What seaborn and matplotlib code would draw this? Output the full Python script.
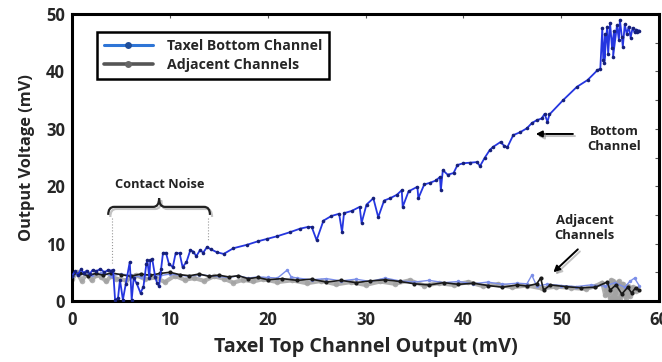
import numpy as np
import pandas as pd
import matplotlib
matplotlib.use("Agg")
import matplotlib.pyplot as plt
import matplotlib.patheffects as pe
from matplotlib.path import Path
from matplotlib.patches import PathPatch
from matplotlib.lines import Line2D
import seaborn as sns

# ---- data (mV) ----
bottom_x = [0.0, 0.3, 0.6, 0.9, 1.2, 1.5, 1.8, 2.1, 2.5, 2.9, 3.3, 3.7, 4.0, 4.2,
            4.4, 4.7, 4.9, 5.2, 5.5, 5.9, 6.1, 6.3, 6.6, 7.0, 7.3, 7.6, 7.7, 7.9, 8.0,
            8.2, 8.5, 8.7, 8.9, 9.1, 9.3, 9.6, 9.9, 10.3, 10.6, 11.0, 11.3, 11.7, 12.1,
            12.4, 12.7, 13.1, 13.4, 13.8, 14.2, 14.8, 15.5, 16.5, 17.9, 19.0, 19.9,
            21.0, 22.3, 23.3, 24.1, 24.5, 25.0, 25.7, 26.5, 27.3, 27.6, 27.8, 28.6,
            29.4, 29.6, 30.1, 30.8, 31.3, 31.9, 32.5, 33.2, 33.7, 33.8, 34.4, 35.3,
            35.4, 36.0, 36.6, 37.2, 37.6, 37.7, 37.9, 38.4, 39.0, 39.4, 40.0, 40.7,
            41.4, 41.7, 42.2, 42.7, 43.0, 43.8, 44.2, 44.5, 45.1, 45.8, 46.5, 47.0,
            47.5, 48.0, 48.3, 48.6, 48.8, 50.2, 51.6, 52.7, 53.7, 54.0,
            54.2, 54.3, 54.5, 54.4, 54.7, 54.8, 55.0, 55.2, 55.4, 55.3, 55.7, 55.9,
            56.0, 56.2, 56.3, 56.5, 56.7, 56.9, 57.1, 57.3, 57.5, 57.8, 57.6, 58.0]
bottom_y = [4.3, 5.2, 4.6, 5.5, 4.9, 5.3, 4.7, 5.4, 5.2, 5.6, 5.0, 5.4, 5.3, 5.4,
            0.2, 0.5, 3.7, 0.2, 3.0, 6.8, 0.2, 4.0, 3.1, 1.4, 2.5, 6.5, 7.1, 4.0, 7.1,
            7.3, 4.2, 3.1, 2.6, 5.5, 8.4, 8.4, 6.5, 5.9, 8.4, 8.3, 5.9, 6.8, 8.9,
            8.6, 7.8, 8.9, 8.4, 9.4, 9.0, 8.5, 8.2, 9.2, 9.8, 10.4, 10.8,
            11.3, 12.0, 12.6, 12.9, 12.9, 10.6, 14.0, 14.8, 15.2, 12.0, 15.3, 15.7,
            16.4, 13.6, 16.8, 17.9, 14.6, 17.5, 17.9, 18.5, 19.3, 16.4, 19.1, 19.9,
            17.9, 20.3, 20.6, 21.0, 21.6, 19.3, 22.8, 22.0, 22.3, 23.7, 24.0, 24.1,
            24.2, 23.5, 25.0, 26.3, 26.8, 27.7, 27.0, 26.8, 28.9, 29.4, 30.1, 31.0,
            31.5, 31.8, 32.6, 31.2, 32.5, 35.0, 37.3, 38.5, 40.2, 40.5,
            47.5, 42.0, 46.5, 41.5, 47.8, 43.0, 48.4, 44.0, 47.0, 42.5, 48.0, 45.5,
            49.0, 46.0, 44.3, 48.2, 46.5, 47.8, 45.9, 47.6, 46.8, 46.9, 47.3, 47.1]

adj_black_x = [0, 0.8, 1.6, 2.4, 3.2, 4.0, 5.0, 6.0, 7.0, 8.0, 9.0, 10.0, 11.0, 12.0,
               13.0, 14.0, 15.0, 16.0, 17.0, 18.0, 19.0, 20.0, 21.5, 23.0, 24.5, 26.0,
               27.5, 29.0, 30.5, 32.0, 33.5, 35.0, 36.5, 38.0, 39.5, 41.0, 42.5, 44.0,
               45.5, 46.5, 47.5, 47.9, 48.2, 48.9, 50.5, 52.0, 53.5, 54.7, 55.0, 55.6,
               56.2, 56.8, 57.2, 57.6, 58.0]
adj_black_y = [4.6, 4.9, 4.4, 4.8, 4.5, 4.9, 4.6, 4.3, 4.7, 4.5, 4.8, 5.0, 4.6, 4.4,
               4.7, 4.3, 4.5, 4.2, 4.4, 3.9, 4.1, 3.7, 3.9, 3.6, 3.8, 3.3,
               3.6, 3.2, 3.5, 3.7, 3.4, 3.0, 2.8, 3.2, 2.9, 3.1, 2.7, 2.4,
               2.8, 2.6, 3.0, 4.0, 1.9, 2.8, 2.5, 2.3, 2.4, 3.3, 1.9, 2.8,
               1.2, 2.4, 1.4, 2.3, 1.9]

adj_gray_x = [0, 0.5, 1.0, 1.5, 2.0, 2.5, 3.0, 3.5, 4.0, 4.5, 5.5, 6.5, 7.5, 8.5, 9.5,
              10.5, 11.5, 12.5, 13.5, 14.5, 15.5, 16.5, 17.5, 18.5, 19.5, 21, 22.5, 24,
              25.5, 27, 28.5, 30, 31.5, 33, 34.5, 36, 37.5, 39, 40.5, 42, 43.5, 45,
              46.5, 48, 49.5, 51, 52.5, 53.5, 54.2, 54.5, 54.8, 55.0, 55.3, 55.5, 55.8,
              56.0, 56.3, 56.5, 56.8, 57.0, 57.3, 57.6, 55.2, 54.6, 55.9, 56.6, 55.4,
              56.1, 54.9, 56.9, 55.7, 55.1, 56.4, 55.6, 56.2, 54.7, 55.8, 56.7, 55.3,
              56.0, 55.5]
adj_gray_y = [3.8, 5.0, 3.5, 4.8, 3.6, 4.6, 4.2, 3.4, 4.4, 3.9, 3.6, 4.5, 3.8, 4.1, 3.3,
              4.4, 3.7, 4.0, 3.5, 4.3, 3.9, 3.2, 3.7, 3.4, 3.8, 3.3, 3.6, 3.1,
              3.5, 2.9, 3.3, 2.8, 3.4, 3.0, 3.6, 2.7, 3.1, 2.8, 3.3, 2.6, 2.9, 2.4,
              2.7, 2.2, 2.5, 2.3, 2.1, 2.6, 3.2, 1.0, 2.8, 0.6, 3.5, 1.4, 2.2,
              0.5, 3.0, 1.2, 2.6, 0.8, 2.4, 1.8, 0.4, 2.0, 3.4, 0.6, 2.9,
              1.0, 1.6, 2.2, 0.3, 3.6, 1.8, 0.5, 2.7, 1.3, 3.1, 1.5, 0.8,
              2.4, 1.9]

adj_blue_x = [0, 1, 2, 3, 4, 5, 6, 7, 8, 9, 10, 11, 12, 13, 14, 15, 16, 17, 18, 19, 20,
              21, 22.0, 22.4, 23, 24.5, 26, 27.5, 29, 30.5, 32, 33.5, 35, 36.5, 38,
              39.5, 41, 42.5, 44, 45.5, 46.5, 47.0, 47.5, 48.5, 50, 51.5, 53, 54.5,
              55.5, 56.5, 57.0, 57.5, 58.0]
adj_blue_y = [4.3, 4.8, 4.5, 4.9, 4.4, 4.7, 4.5, 4.2, 4.6, 4.4, 4.7, 4.5, 4.3, 4.6, 4.4,
              4.3, 4.1, 4.4, 4.0, 4.2, 4.1, 4.0, 5.4, 4.2, 4.0, 3.7, 3.9, 3.5, 3.8, 3.4,
              4.0, 3.5, 3.3, 3.6, 3.2, 3.4, 3.0, 3.3, 2.9, 3.1, 3.0, 4.5, 2.6, 2.9,
              2.7, 2.5, 2.8, 2.6, 3.2, 2.4, 3.4, 4.0, 2.6]

x_ticks = [0, 10, 20, 30, 40, 50, 60]
y_ticks = [0, 10, 20, 30, 40, 50]
legend_labels = ["Taxel Bottom Channel", "Adjacent Channels"]

# ---- styling ----
sns.set_style("white")
plt.rcParams["font.family"] = ["Open Sans", "DejaVu Sans"]
plt.rcParams["font.weight"] = "bold"

fig = plt.figure(figsize=(6.62, 3.62), dpi=100)
ax = fig.add_axes([0.1088, 0.1685, 0.8867, 0.7928])

BLUE = "#2536e0"
NAVY = "#16207a"

df_gray = pd.DataFrame({"x": adj_gray_x, "y": adj_gray_y})
df_blue_adj = pd.DataFrame({"x": adj_blue_x, "y": adj_blue_y})
df_black = pd.DataFrame({"x": adj_black_x, "y": adj_black_y})
df_bottom = pd.DataFrame({"x": bottom_x, "y": bottom_y})

sns.lineplot(data=df_gray, x="x", y="y", sort=False, estimator=None, ax=ax,
             color="#a3a3a3", lw=3.0, alpha=0.85, marker="o", markersize=4,
             markeredgewidth=0, zorder=2)
sns.lineplot(data=df_blue_adj, x="x", y="y", sort=False, estimator=None, ax=ax,
             color="#7b8ee8", lw=1.0, marker="o", markersize=2.5,
             markeredgewidth=0, zorder=3)
sns.lineplot(data=df_black, x="x", y="y", sort=False, estimator=None, ax=ax,
             color="#1a1a1a", lw=1.2, marker="o", markersize=3,
             markeredgewidth=0, zorder=4)
sns.lineplot(data=df_bottom, x="x", y="y", sort=False, estimator=None, ax=ax,
             color=BLUE, lw=1.3, marker="o", markersize=2.6, markerfacecolor=NAVY,
             markeredgewidth=0, zorder=5)

ax.set_xlim(0, 60)
ax.set_ylim(0, 50)
ax.set_xticks(x_ticks)
ax.set_yticks(y_ticks)
ax.set_yticks([5, 15, 25, 35, 45], minor=True)
ax.tick_params(axis="both", which="both", direction="in", top=True, right=True,
               labelsize=12, length=3, width=0.8, color="#555555")
ax.tick_params(axis="x", pad=7)
ax.tick_params(axis="y", pad=5)
for lbl in ax.get_xticklabels() + ax.get_yticklabels():
    lbl.set_fontweight("bold")
for s in ax.spines.values():
    s.set_linewidth(2.2)
    s.set_color("black")

ax.set_xlabel("Taxel Top Channel Output (mV)", fontsize=14.2, fontweight="bold",
              labelpad=6)
ax.set_ylabel("Output Voltage (mV)", fontsize=11.8, fontweight="bold", labelpad=8)

# legend
handles = [
    Line2D([], [], color="#2e75d6", lw=2.2, marker="o", markersize=5,
           markerfacecolor="#1f4e9a", markeredgewidth=0),
    Line2D([], [], color="#555555", lw=2.6, marker="o", markersize=5,
           markerfacecolor="#666666", markeredgewidth=0),
]
leg = ax.legend(handles, legend_labels, loc="upper left",
                bbox_to_anchor=(0.043, 0.937), borderaxespad=0, fancybox=False,
                framealpha=1, edgecolor="black", handlelength=3.4,
                borderpad=0.5, labelspacing=0.35, handletextpad=1.0,
                prop={"weight": "bold", "size": 10.2})
leg.get_frame().set_linewidth(1.8)

shadow_line = [pe.SimpleLineShadow(offset=(1.5, -1.5), shadow_color="#888888", alpha=0.5),
               pe.Normal()]

# "Contact Noise" brace
bx0, bx1, bmid = 3.7, 14.1, 8.9
yb, ye, yt = 16.4, 15.0, 17.9
brace_verts = [
    (bx0, ye), (bx0, yb), (bx0 + 0.6, yb),
    (bmid - 0.6, yb), (bmid, yb), (bmid, yt),
    (bmid, yb), (bmid + 0.6, yb),
    (bx1 - 0.6, yb), (bx1, yb), (bx1, ye),
]
brace_codes = [Path.MOVETO, Path.CURVE3, Path.CURVE3,
               Path.LINETO, Path.CURVE3, Path.CURVE3,
               Path.CURVE3, Path.CURVE3,
               Path.LINETO, Path.CURVE3, Path.CURVE3]
brace = PathPatch(Path(brace_verts, brace_codes), fill=False, lw=1.6,
                  edgecolor="#222222", zorder=6, path_effects=shadow_line)
ax.add_patch(brace)
ax.plot([4.1, 4.1], [14.5, 6.6], ls=":", lw=0.8, color="#999999", zorder=1)
ax.plot([13.9, 13.9], [14.5, 10.4], ls=":", lw=0.8, color="#999999", zorder=1)
ax.text(9.0, 20.3, "Contact Noise", ha="center", va="center", fontsize=9.2,
        fontweight="bold", color="#222222")

# arrows
ax.annotate("", xy=(47.4, 29.1), xytext=(51.2, 29.1),
            arrowprops=dict(arrowstyle="-|>", color="black", lw=1.4,
                            mutation_scale=9, shrinkA=0, shrinkB=0,
                            path_effects=shadow_line))
ax.text(55.4, 28.3, "Bottom\nChannel", ha="center", va="center", fontsize=9.4,
        fontweight="bold", color="#222222", linespacing=1.2)

ax.annotate("", xy=(49.2, 5.0), xytext=(51.7, 9.0),
            arrowprops=dict(arrowstyle="-|>", color="black", lw=1.4,
                            mutation_scale=9, shrinkA=0, shrinkB=0,
                            path_effects=shadow_line))
ax.text(52.4, 12.8, "Adjacent\nChannels", ha="center", va="center", fontsize=9.4,
        fontweight="bold", color="#222222", linespacing=1.2)

fig.savefig("out.png", dpi=100)
